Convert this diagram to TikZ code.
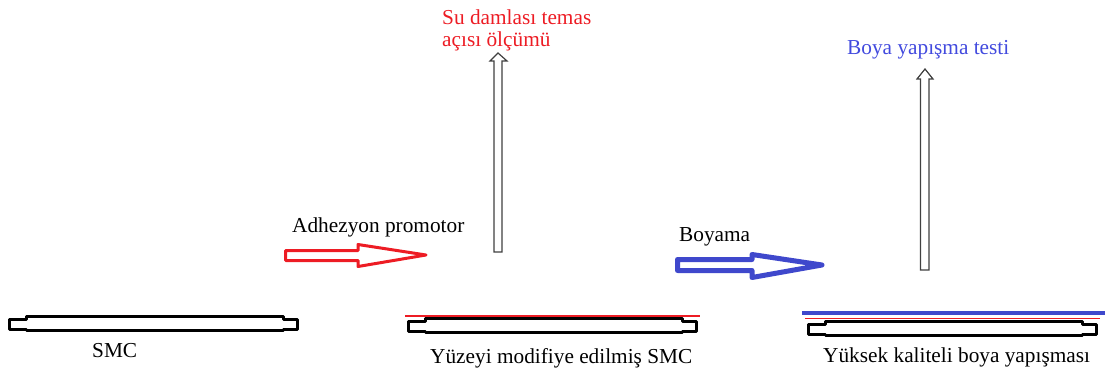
\documentclass[tikz,border=0pt]{standalone}
\usepackage{fontspec}
\setmainfont{Liberation Serif}
\definecolor{pred}{RGB}{237,28,36}
\definecolor{pblue}{RGB}{63,72,204}
\definecolor{ptext}{RGB}{66,74,222}
\begin{document}
\begin{tikzpicture}[x=1pt,y=-1pt,
  lbl/.style={inner sep=0pt,anchor=base west,font=\fontsize{21.3}{22}\selectfont},
  tube/.pic={\draw[line width=3pt,line join=round,fill=white]
     (0,-4)--(16.5,-4)--(16.5,-7)--(273.5,-7)--(273.5,-4)--(288,-4)--(288,6)--(273.5,6)--(273.5,7)--(16.5,7)--(16.5,6)--(0,6)--cycle;},
  uparrow/.style={draw=black!75,line width=1.2pt,fill=white,line join=miter},
  fatarrow/.style={line join=round}
]
\useasboundingbox (0,0) rectangle (1107,374);

% bars
\pic at (9.5,323.5) {tube};
\pic at (408.5,325.5) {tube};
\pic at (808.5,328.5) {tube};

% coatings
\draw[pred,line width=2pt] (405,316) -- (553,316);
\draw[pred,line width=1.2pt] (553,316) -- (700,316);
\draw[pred,line width=1.8pt] (805,318.5) -- (1100,318.5);
\draw[pblue,line width=4pt] (802,313) -- (1105,313);

% horizontal arrows
\draw[fatarrow,pred,line width=3pt]
  (285.5,250.5)--(358,250.5)--(358,244.5)--(426,255)--(358,266.5)--(358,260.5)--(285.5,260.5)--cycle;
\draw[fatarrow,pblue,line width=5pt]
  (677.5,259.5)--(752,259.5)--(752,254.5)--(822,265)--(752,277.5)--(752,270.5)--(677.5,270.5)--cycle;

% vertical arrows
\draw[uparrow] (494,252)--(494,61)--(490,61)--(498,53)--(507,61)--(502,61)--(502,252)--cycle;
\draw[uparrow] (920.5,270)--(920.5,79)--(917,79)--(925,69)--(933,79)--(929,79)--(929,270)--cycle;

% labels
\node[lbl] (smc) at (92,357) {SMC};
\node[lbl] (mod) at (430,363) {Yüzeyi modifiye edilmiş SMC};
\node[lbl] (high) at (823,362) {Yüksek kaliteli boya yapışması};
\node[lbl] (adh) at (292,232) {Adhezyon promotor};
\node[lbl] (boy) at (679,241) {Boyama};
\node[lbl,text=pred] (wa1) at (442,25) {Su damlası temas};
\node[lbl,text=pred] (wa2) at (442,47) {açısı ölçümü};
\node[lbl,text=ptext] (test) at (847,55) {Boya yapışma testi};
\end{tikzpicture}
\end{document}
